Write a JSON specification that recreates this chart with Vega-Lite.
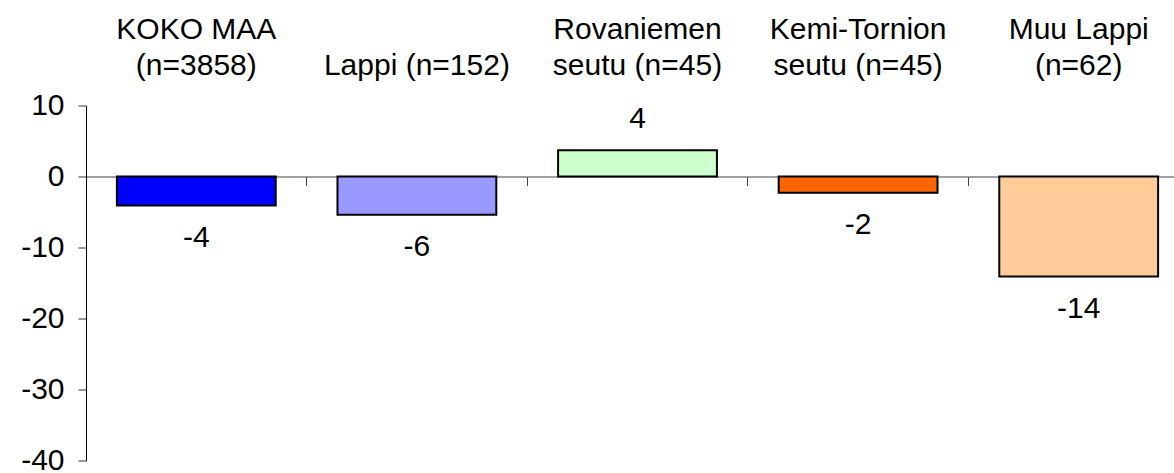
{
  "$schema": "https://vega.github.io/schema/vega-lite/v6.json",
  "width": 1088,
  "height": 355,
  "autosize": {"type": "none"},
  "padding": {"left": 86, "top": 105.5, "right": 0, "bottom": 12.5},
  "config": {
    "view": {"stroke": null},
    "font": "Liberation Sans",
    "text": {"font": "Liberation Sans"}
  },
  "data": {
    "values": [
      {"cat": "KOKO MAA|(n=3858)", "value": -4.1, "label": "-4"},
      {"cat": "|Lappi (n=152)", "value": -5.4, "label": "-6"},
      {"cat": "Rovaniemen|seutu (n=45)", "value": 3.7, "label": "4"},
      {"cat": "Kemi-Tornion|seutu (n=45)", "value": -2.3, "label": "-2"},
      {"cat": "Muu Lappi|(n=62)", "value": -14.1, "label": "-14"}
    ]
  },
  "layer": [
    {
      "mark": {"type": "bar", "width": {"band": 0.72}, "stroke": "black", "strokeWidth": 2},
      "encoding": {
        "x": {
          "field": "cat", "type": "nominal", "sort": null,
          "scale": {"range": [0, 1103], "paddingInner": 0, "paddingOuter": 0},
          "axis": {
            "orient": "top", "title": null, "domain": false, "ticks": false, "tickSize": 0,
            "labelExpr": "split(datum.label, '|')",
            "labelFontSize": 30, "labelLineHeight": 36, "labelColor": "black",
            "labelPadding": 61, "labelAngle": 0, "labelFont": "Liberation Sans",
            "labelLimit": 400, "labelOverlap": false
          }
        },
        "y": {
          "field": "value", "type": "quantitative",
          "scale": {"domain": [-40, 10], "nice": false},
          "axis": {
            "title": null, "values": [-40, -30, -20, -10, 0, 10], "grid": false,
            "labelExpr": "datum.value < 0 ? '-' + abs(datum.value) : '' + datum.value",
            "domainColor": "black", "domainWidth": 1, "tickColor": "#333", "tickSize": 8, "tickWidth": 1,
            "labelFontSize": 30, "labelColor": "black", "labelPadding": 14, "labelFont": "Liberation Sans"
          }
        },
        "color": {
          "field": "cat", "type": "nominal", "sort": null, "legend": null,
          "scale": {
            "domain": ["KOKO MAA|(n=3858)", "|Lappi (n=152)", "Rovaniemen|seutu (n=45)", "Kemi-Tornion|seutu (n=45)", "Muu Lappi|(n=62)"],
            "range": ["#0000FF", "#9999FF", "#CCFFCC", "#FF6600", "#FFCC99"]
          }
        }
      }
    },
    {
      "transform": [{"filter": "datum.value < 0"}],
      "mark": {"type": "text", "dy": 32, "fontSize": 30, "baseline": "middle", "color": "black"},
      "encoding": {
        "x": {
          "field": "cat", "type": "nominal", "sort": null,
          "axis": {
            "orient": "bottom", "title": null, "labels": false, "offset": -284,
            "bandPosition": 0, "domainColor": "#444", "domainWidth": 1,
            "tickColor": "#444", "tickSize": 9, "tickWidth": 1
          }
        },
        "y": {"field": "value", "type": "quantitative"},
        "text": {"field": "label"}
      }
    },
    {
      "transform": [{"filter": "datum.value >= 0"}],
      "mark": {"type": "text", "dy": -31, "fontSize": 30, "baseline": "middle", "color": "black"},
      "encoding": {
        "x": {"field": "cat", "type": "nominal", "sort": null, "axis": null},
        "y": {"field": "value", "type": "quantitative"},
        "text": {"field": "label"}
      }
    }
  ],
  "resolve": {"axis": {"x": "independent"}}
}
